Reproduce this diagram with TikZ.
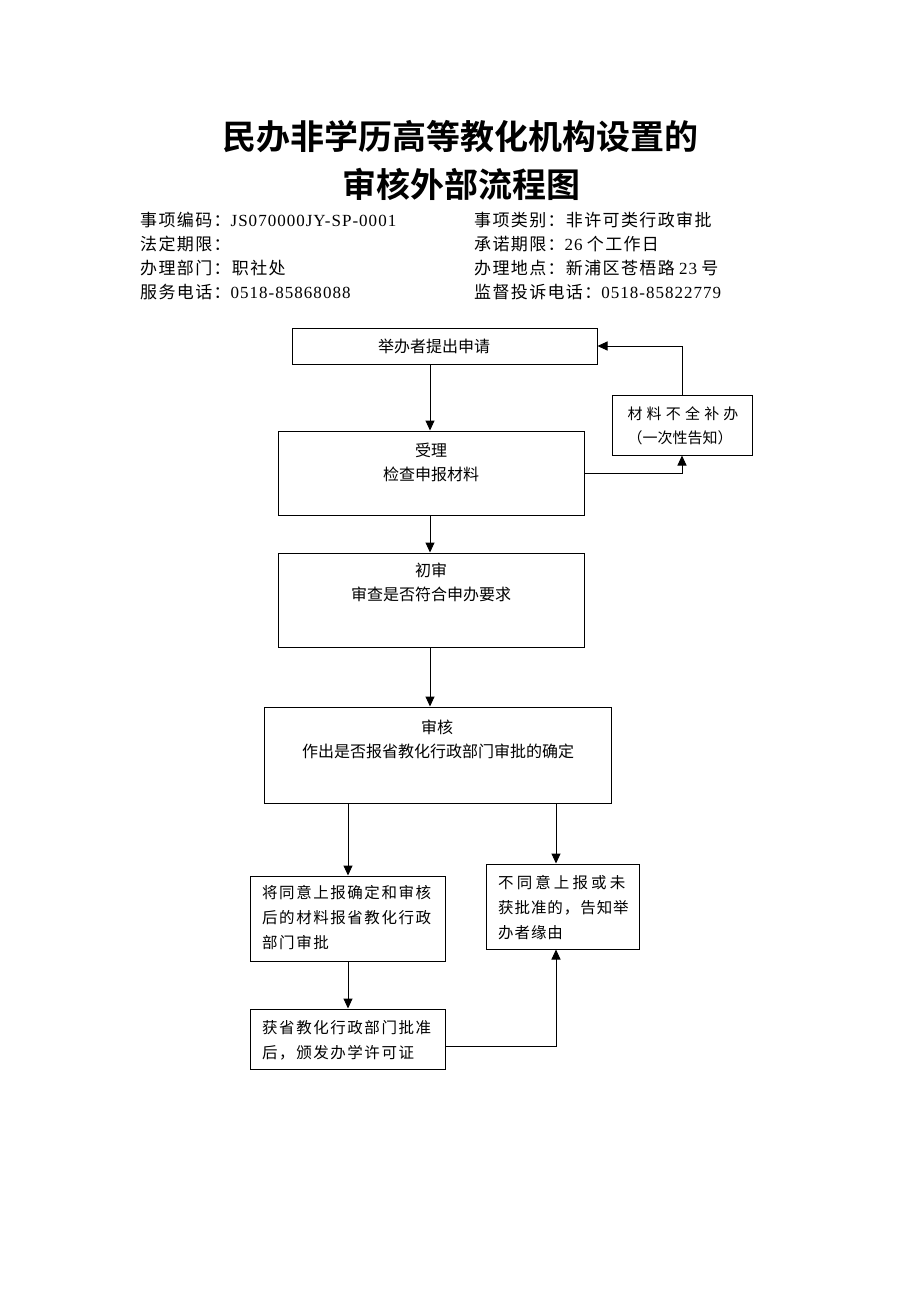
\documentclass[tikz,border=0pt]{standalone}
\usepackage{fontspec}
\setmainfont{Liberation Serif}
\newfontfamily\cjk{Noto Sans CJK SC}
\newfontfamily\cjkb{Noto Sans CJK SC Bold}
\newfontfamily\hcjk[LetterSpace=8]{Noto Sans CJK SC}
\newfontfamily\hlat[LetterSpace=6]{Liberation Serif}
\usetikzlibrary{arrows.meta}
\tikzset{
  box/.style={draw,line width=1pt,inner sep=0pt},
  arr/.style={line width=1pt,-{Triangle[length=10pt,width=9pt]}},
  ctext/.style={inner sep=0pt,font=\cjk\fontsize{16}{18}\selectfont},
  ltext/.style={inner sep=0pt,anchor=west,font=\cjk\fontsize{15.5}{18}\selectfont\addfontfeatures{LetterSpace=10}},
  rtext/.style={inner sep=0pt,anchor=west,font=\cjk\fontsize{15.5}{18}\selectfont\addfontfeatures{LetterSpace=6}},
  htext/.style={inner sep=0pt,anchor=west,font=\fontsize{17}{19}\selectfont},
  title/.style={inner sep=0pt,font=\cjkb\fontsize{34}{38}\selectfont}
}
\newcommand{\hc}[1]{{\hcjk #1}}
\newcommand{\hl}[1]{{\hlat #1}}
\begin{document}
\begin{tikzpicture}[x=1pt,y=-1pt]
\useasboundingbox[fill=white] (0,0) rectangle (920,1302);
% title
\node[title] (t1) at (460,137) {民办非学历高等教化机构设置的};
\node[title] (t2) at (461,184) {审核外部流程图};
% header
\node[htext] (h1) at (140,220) {\hc{事项编码：}\hl{JS070000JY-SP-0001}};
\node[htext] (h2) at (140,244) {\hc{法定期限：}};
\node[htext] (h3) at (140,268) {\hc{办理部门：职社处}};
\node[htext] (h4) at (140,292) {\hc{服务电话：}\hl{0518-85868088}};
\node[htext] (h5) at (474,220) {\hc{事项类别：非许可类行政审批}};
\node[htext] (h6) at (474,244) {\hc{承诺期限：}\hl{26} \hc{个工作日}};
\node[htext] (h7) at (474,268) {\hc{办理地点：新浦区苍梧路} \hl{23} \hc{号}};
\node[htext] (h8) at (474,292) {\hc{监督投诉电话：}\hl{0518-85822779}};
% boxes
\node[box,minimum width=305,minimum height=36] (b1) at (444.5,346) {};
\node[box,minimum width=306,minimum height=84] (b2) at (431,473) {};
\node[box,minimum width=140,minimum height=60] (b3) at (682,425) {};
\node[box,minimum width=306,minimum height=94] (b4) at (431,600) {};
\node[box,minimum width=347,minimum height=96] (b5) at (437.5,755) {};
\node[box,minimum width=195,minimum height=85] (b6) at (347.5,918.5) {};
\node[box,minimum width=153,minimum height=85] (b7) at (562.5,906.5) {};
\node[box,minimum width=195,minimum height=60] (b8) at (347.5,1039) {};
% box texts
\node[ctext] (x1) at (434,346) {举办者提出申请};
\node[ctext] (x2a) at (431,450) {受理};
\node[ctext] (x2b) at (431,474) {检查申报材料};
\node[ctext,font=\cjk\fontsize{15}{18}\selectfont\addfontfeatures{LetterSpace=28}] (x3a) at (683,414) {材料不全补办};
\node[ctext,font=\cjk\fontsize{15}{18}\selectfont] (x3b) at (680,438) {（一次性告知）};
\node[ctext] (x4a) at (431,570) {初审};
\node[ctext] (x4b) at (431,594) {审查是否符合申办要求};
\node[ctext] (x5a) at (437,727) {审核};
\node[ctext] (x5b) at (438,751) {作出是否报省教化行政部门审批的确定};
\node[ltext] (x6a) at (262,893) {将同意上报确定和审核};
\node[ltext] (x6b) at (262,918) {后的材料报省教化行政};
\node[ltext] (x6c) at (262,943) {部门审批};
\node[rtext,font=\cjk\fontsize{15.5}{18}\selectfont\addfontfeatures{LetterSpace=20}] (x7a) at (498,883) {不同意上报或未};
\node[rtext] (x7b) at (498,908) {获批准的，告知举};
\node[rtext] (x7c) at (498,933) {办者缘由};
\node[ltext] (x8a) at (262,1028) {获省教化行政部门批准};
\node[ltext] (x8b) at (262,1053) {后，颁发办学许可证};
% connectors
\coordinate (xa) at (430,0);
\coordinate (xb) at (348,0);
\coordinate (xc) at (556,0);
\draw[arr] (b1.south -| xa) -- (b2.north -| xa);
\draw[arr] (b2.east) -| (b3.south);
\draw[arr] (b3.north) |- (b1.east);
\draw[arr] (b2.south -| xa) -- (b4.north -| xa);
\draw[arr] (b4.south -| xa) -- (b5.north -| xa);
\draw[arr] (b5.south -| xb) -- (b6.north -| xb);
\draw[arr] (b5.south -| xc) -- (b7.north -| xc);
\draw[arr] (b6.south -| xb) -- (b8.north -| xb);
\draw[arr] ([yshift=-7pt]b8.east) -| (b7.south -| xc);
\end{tikzpicture}
\end{document}
